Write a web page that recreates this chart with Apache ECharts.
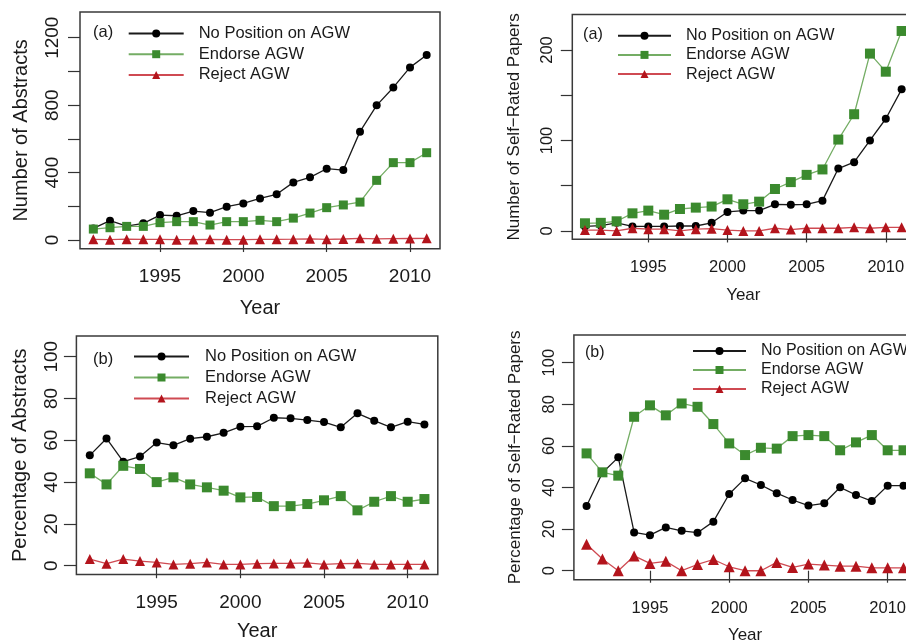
<!DOCTYPE html>
<html>
<head>
<meta charset="utf-8">
<script src="https://cdn.jsdelivr.net/npm/echarts@6/dist/echarts.min.js"></script>
<style>
html,body{margin:0;padding:0;background:#fff;}
#chart{width:906px;height:640px;}
</style>
</head>
<body>
<div id="chart"></div>
<script>
// ---------- data ----------
const years = [1991,1992,1993,1994,1995,1996,1997,1998,1999,2000,2001,2002,2003,2004,2005,2006,2007,2008,2009,2010,2011];
const seriesNames = ['No Position on AGW', 'Endorse AGW', 'Reject AGW'];

// (a) left: number of abstracts
const absNone    = [69,115,83,99,148,144,172,162,198,217,247,271,342,372,423,415,643,799,905,1024,1097];
const absEndorse = [65,73,81,81,103,109,109,89,109,109,117,109,130,160,192,208,225,354,459,459,518];
const absReject  = [4,2,5,4,4,2,3,4,2,2,4,4,5,7,4,6,10,7,8,9,10];

// (a) right: number of self-rated papers
const selfNone    = [5,6,9,5,5,5,5.5,5.5,9,21,22.5,22.5,29.5,29,29.5,33.5,69,76,100,124,156.5];
const selfEndorse = [8.5,9,10.7,19.5,22.5,18,24.3,25.8,27,35,29.5,32.4,46.4,54,62,68,101,129,196,176,221];
const selfReject  = [1,1,0,3,2,2,0,2,2.5,1,0,0,3,1.5,3,3,3,4,3,4,4];

// (b) left: percentage of abstracts
const pctAbsNone    = [52.8,60.9,49.8,52.2,58.9,57.6,60.8,61.7,63.6,66.5,66.7,70.8,70.5,69.7,68.7,66.2,72.9,69.4,66.2,68.9,67.6];
const pctAbsEndorse = [44.2,38.9,47.8,46.3,40.0,42.3,38.9,37.5,35.9,32.7,32.9,28.5,28.5,29.5,31.3,33.3,26.5,30.6,33.3,30.6,31.9];
const pctAbsReject  = [3.2,1.0,3.2,2.2,1.6,0.6,1.0,1.6,0.6,0.6,1.0,1.1,1.1,1.4,0.6,1.0,1.1,0.6,0.6,0.6,0.6];

// (b) right: percentage of self-rated papers
const pctSelfNone    = [31.1,47.1,54.5,18.4,17.1,20.8,19.2,18.3,23.6,36.9,44.4,41.2,37.3,34.0,31.3,32.4,40.1,36.4,33.5,40.9,40.9];
const pctSelfEndorse = [56.4,47.3,45.7,74.0,79.5,74.7,80.4,78.8,70.5,61.2,55.6,59.1,58.7,64.7,65.2,64.7,57.9,61.7,65.2,57.9,57.9];
const pctSelfReject  = [12.7,5.6,0,7.1,3.5,4.5,0,3.0,5.4,1.9,0,0,4.0,1.6,3.2,2.7,2.2,2.2,1.4,1.4,1.4];

// ticks / labels
const xTickYears = [1995,2000,2005,2010];
const yTicksCount  = [0,200,400,600,800,1000,1200];
const yLabelsCount = [0,400,800,1200];
const yTicksSelf   = [0,50,100,150,200];
const yLabelsSelf  = [0,100,200];
const yTicksPct    = [0,20,40,60,80,100];

const panelLetters = ['(a)','(a)','(b)','(b)'];
const yNames = ['Number of Abstracts','Number of Self\u2212Rated Papers','Percentage of Abstracts','Percentage of Self\u2212Rated Papers'];
const xName = 'Year';

// ---------- styling ----------
const FONT = 'Liberation Sans, Arial, Helvetica, sans-serif';
const TXT = '#1a1a1a';
const markerColors = ['#000000', '#3b8a2e', '#b3141c'];
const lineColors   = ['#1a1a1a', '#74ad64', '#cf4a52'];
const symbols      = ['circle', 'rect', 'triangle'];

const panels = [
  { grid:{left:80, top:12.1, width:360, height:236.7}, ymin:-52, ymax:1352, yTicks:yTicksCount, yLabels:yLabelsCount,
    data:[absNone,absEndorse,absReject], font:19, nameFont:20, tickLen:12, yMargin:18, xMargin:18, xNameGap:50, yNameGap:49,
    legend:{left:127.7, top:25, w:55, gap:3.7, pad:10, font:16.5}, title:{left:93, top:24}, sym:[8,9,10] },
  { grid:{left:572.3, top:14.5, width:342, height:224.8}, ymin:-9.2, ymax:239.2, yTicks:yTicksSelf, yLabels:yLabelsSelf,
    data:[selfNone,selfEndorse,selfReject], font:16.5, nameFont:17, tickLen:11.5, yMargin:16, xMargin:20, xNameGap:48, yNameGap:49,
    legend:{left:617, top:27.7, w:53, gap:3.2, pad:10, font:16.2}, title:{left:583, top:27}, sym:[8,10,10] },
  { grid:{left:76.4, top:336, width:361.4, height:238.5}, ymin:-4.2, ymax:109.9, yTicks:yTicksPct, yLabels:yTicksPct,
    data:[pctAbsNone,pctAbsEndorse,pctAbsReject], font:19, nameFont:20, tickLen:12.5, yMargin:15, xMargin:18.5, xNameGap:47, yNameGap:46,
    legend:{left:133, top:348, w:55, gap:4, pad:11, font:16.5}, title:{left:93, top:351}, sym:[8,10,10] },
  { grid:{left:573.9, top:334.9, width:342.3, height:244.9}, ymin:-4.36, ymax:113.36, yTicks:yTicksPct, yLabels:yTicksPct,
    data:[pctSelfNone,pctSelfEndorse,pctSelfReject], font:16.5, nameFont:17, tickLen:12, yMargin:16, xMargin:20.5, xNameGap:47.5, yNameGap:50,
    legend:{left:692, top:343, w:53, gap:3, pad:10, font:16}, title:{left:585, top:345}, sym:[8,10,11] }
];

const option = {
  animation: false,
  backgroundColor: '#ffffff',
  textStyle: { fontFamily: FONT, color: TXT },
  grid: [], xAxis: [], yAxis: [], series: [], legend: [], title: []
};

panels.forEach((p, i) => {
  option.grid.push(Object.assign({
    show: true, borderColor: '#3a3a3a', borderWidth: 1.5, backgroundColor: 'transparent',
    containLabel: false, outerBoundsMode: 'none'
  }, p.grid));

  option.xAxis.push({
    type: 'value', gridIndex: i, min: 1990.2, max: 2011.8,
    name: xName, nameLocation: 'middle', nameGap: p.xNameGap,
    nameTextStyle: { fontSize: p.nameFont, color: TXT, fontFamily: FONT },
    axisLine: { show: false },
    splitLine: { show: false },
    axisTick: { show: true, inside: false, length: p.tickLen, customValues: xTickYears, lineStyle: { color: '#333', width: 1.2 } },
    axisLabel: { show: true, margin: p.xMargin, customValues: xTickYears, fontSize: p.font, color: TXT, fontFamily: FONT,
      formatter: v => String(v) }
  });

  option.yAxis.push({
    type: 'value', gridIndex: i, min: p.ymin, max: p.ymax,
    name: yNames[i], nameLocation: 'middle', nameGap: p.yNameGap,
    nameTextStyle: { fontSize: p.nameFont, color: TXT, fontFamily: FONT },
    axisLine: { show: false },
    splitLine: { show: false },
    axisTick: { show: true, inside: false, length: p.tickLen, customValues: p.yTicks, lineStyle: { color: '#333', width: 1.2 } },
    axisLabel: { show: true, rotate: 90, margin: p.yMargin, customValues: p.yLabels, fontSize: p.font, color: TXT, fontFamily: FONT,
      formatter: v => String(v) }
  });

  seriesNames.forEach((nm, k) => {
    option.series.push({
      type: 'line', name: nm, xAxisIndex: i, yAxisIndex: i,
      data: years.map((y, j) => [y, p.data[k][j]]),
      symbol: symbols[k], symbolSize: p.sym[k], showSymbol: true, showAllSymbol: true,
      itemStyle: { color: markerColors[k], borderWidth: 0 },
      lineStyle: { color: lineColors[k], width: 1.3 },
      emphasis: { disabled: true },
      z: 2 + k
    });
  });

  option.legend.push({
    show: true, orient: 'vertical', left: p.legend.left, top: p.legend.top,
    padding: 0, itemGap: p.legend.gap, itemWidth: p.legend.w, itemHeight: 10,
    selectedMode: false, data: seriesNames,
    textStyle: { fontSize: p.legend.font, color: TXT, fontFamily: FONT, lineHeight: 16, padding: [0, 0, 0, p.legend.pad] }
  });

  option.title.push({
    text: panelLetters[i], left: p.title.left, top: p.title.top, padding: 0,
    textStyle: { fontSize: p.legend.font, fontWeight: 'normal', color: TXT, fontFamily: FONT }
  });
});

const chart = echarts.init(document.getElementById('chart'), null, { renderer: 'canvas', width: 906, height: 640 });
chart.setOption(option);
</script>
</body>
</html>
